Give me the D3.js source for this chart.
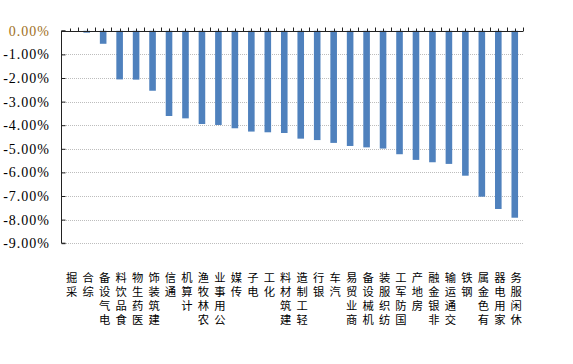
<!DOCTYPE html>
<html>
<head>
<meta charset="utf-8">
<script src="https://cdn.jsdelivr.net/npm/d3@7/dist/d3.min.js"></script>
<style>
html,body{margin:0;padding:0;background:#fff;}
svg{display:block;}
.vch{writing-mode:vertical-rl;text-orientation:upright;}
</style>
</head>
<body>
<svg id="chart" width="573" height="364"></svg>
<script>
const categories = ["采掘","综合","电气设备","食品饮料","医药生物","建筑装饰","通信","计算机","农林牧渔","公用事业","传媒","电子","化工","建筑材料","轻工制造","银行","汽车","商业贸易","机械设备","纺织服装","国防军工","房地产","非银金融","交通运输","钢铁","有色金属","家用电器","休闲服务"];
const values = [0.00,-0.08,-0.55,-2.06,-2.07,-2.54,-3.61,-3.71,-3.95,-3.99,-4.13,-4.27,-4.30,-4.33,-4.57,-4.63,-4.75,-4.88,-4.94,-4.99,-5.23,-5.47,-5.57,-5.64,-6.14,-7.03,-7.55,-7.92];
const yTicks = [0,-1,-2,-3,-4,-5,-6,-7,-8,-9];
const yTickLabels = ["0.00%","-1.00%","-2.00%","-3.00%","-4.00%","-5.00%","-6.00%","-7.00%","-8.00%","-9.00%"];

const svg = d3.select("#chart");
const x0 = 62, x1 = 523, yTop = 30.8, yBot = 243.2;

const x = d3.scaleBand().domain(categories).range([x0, x1]).paddingInner(0.6).paddingOuter(0.3);
const y = d3.scaleLinear().domain([0, -9]).range([yTop, yBot]);
const step = x.step();

// gridlines
svg.append("g").selectAll("line").data(yTicks.slice(1)).join("line")
  .attr("x1", x0).attr("x2", x1)
  .attr("y1", d => Math.round(y(d)) + 0.5).attr("y2", d => Math.round(y(d)) + 0.5)
  .attr("stroke", "#bdbdbd").attr("stroke-width", 1).attr("stroke-dasharray", "1,1");

// bars
svg.append("g").selectAll("rect").data(categories).join("rect")
  .attr("x", d => x(d))
  .attr("width", x.bandwidth())
  .attr("y", y(0))
  .attr("height", (d, i) => Math.max(0, y(values[i]) - y(0)))
  .attr("fill", "#4f81bd");

// left axis
const yAxis = d3.axisRight(y).tickValues(yTicks).tickSize(4).tickFormat("");
const gy = svg.append("g").attr("transform", `translate(${x0 - 0.5},0)`).call(yAxis);
gy.select(".domain").attr("stroke", "#222").attr("d", `M4,${yTop}H0V${yBot}H4`);
gy.selectAll(".tick line").attr("stroke", "#222");

// y labels
svg.append("g").selectAll("text").data(yTicks).join("text")
  .attr("x", 50).attr("y", d => y(d) + 5)
  .attr("text-anchor", "end")
  .attr("font-family", "Liberation Serif, DejaVu Serif, serif")
  .attr("font-size", 14)
  .attr("letter-spacing", 1)
  .attr("fill", (d, i) => i === 0 ? "#a0701c" : "#000")
  .text((d, i) => yTickLabels[i]);

// top category axis
const tickPos = [];
for (let k = 0; k <= categories.length; k++) {
  tickPos.push({ x: x0 + k * step, h: 4 });
  if (k < categories.length) tickPos.push({ x: x0 + (k + 0.5) * step, h: 3 });
}
const gx = svg.append("g");
gx.append("line").attr("x1", x0 - 0.5).attr("x2", x1).attr("y1", Math.round(yTop) + 0.5).attr("y2", Math.round(yTop) + 0.5)
  .attr("stroke", "#222");
gx.selectAll("line.t").data(tickPos.slice(1)).join("line").attr("class", "t")
  .attr("x1", d => Math.round(d.x) + 0.5).attr("x2", d => Math.round(d.x) + 0.5)
  .attr("y1", Math.round(yTop) + 0.5).attr("y2", d => Math.round(yTop) + 0.5 - d.h)
  .attr("stroke", "#222");

// category labels: upright characters, reading bottom-to-top, top-aligned
const pitch = 13.9, labelTop = 272;
const lg = svg.append("g").attr("font-family", "Noto Sans CJK SC, sans-serif").attr("font-size", 11.3).attr("fill", "#000");
categories.forEach((c) => {
  const cx = x(c) + x.bandwidth() / 2 + 1.5;
  const chars = Array.from(c).reverse();
  chars.forEach((ch, row) => {
    lg.append("text")
      .attr("class", "vch")
      .attr("x", cx).attr("y", labelTop + row * pitch)
      .text(ch);
  });
});
</script>
</body>
</html>
